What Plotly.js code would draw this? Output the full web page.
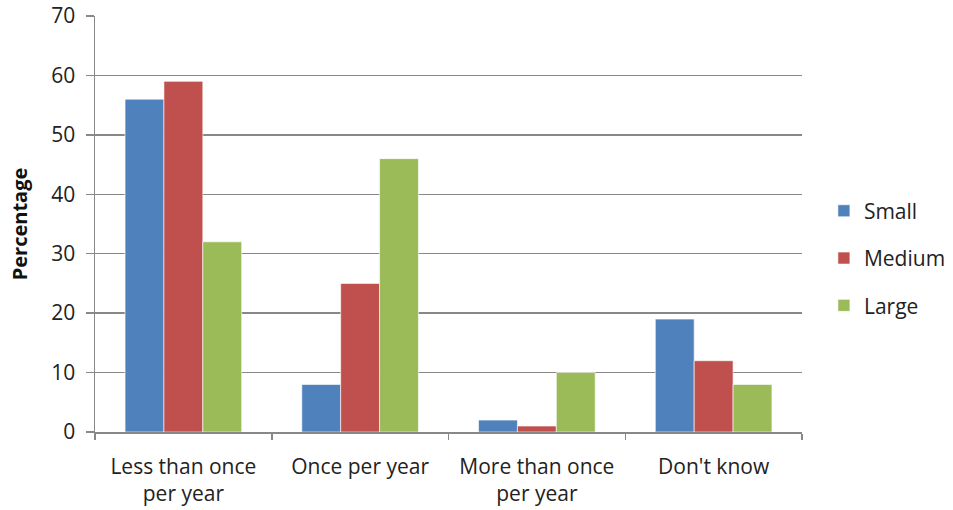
<!DOCTYPE html>
<html>
<head>
<meta charset="utf-8">
<script src="https://cdn.plot.ly/plotly-3.0.1.min.js"></script>
<style>html,body{margin:0;padding:0;background:#fff;}#chart{width:953px;height:510px;}</style>
</head>
<body>
<div id="chart"></div>
<script>
const categories = ["Less than once<br>per year", "Once per year", "More than once<br>per year", "Don't know"];
const seriesNames = ["Small", "Medium", "Large"];
const small = [56, 8, 2, 19];
const medium = [59, 25, 1, 12];
const large = [32, 46, 10, 8];
const yTicks = [0, 10, 20, 30, 40, 50, 60, 70];
const colors = ["#4F81BD", "#C0504D", "#9BBB59"];

const font = "Open Sans, Noto Sans, sans-serif";
const data = [small, medium, large].map((vals, i) => ({
  type: "bar",
  x: categories,
  y: vals,
  name: seriesNames[i],
  legendgroup: "g" + i,
  marker: {color: colors[i], line: {color: "rgba(255,255,255,0.6)", width: 1}}
}));

const layout = {
  width: 953, height: 510,
  margin: {l: 95, r: 151, t: 16, b: 78, autoexpand: false},
  paper_bgcolor: "#fff", plot_bgcolor: "#fff",
  font: {family: font, size: 22, color: "#222"},
  barmode: "group",
  bargap: 0.34, bargroupgap: 0,
  xaxis: {
    type: "category",
    tickson: "boundaries",
    ticks: "outside", ticklen: 6, tickcolor: "#888", tickwidth: 1.5,
    ticklabelstandoff: 15,
    showgrid: false,
    showline: true, linecolor: "#888", linewidth: 1.5,
    tickfont: {family: font, size: 21, color: "#222"},
    fixedrange: true
  },
  yaxis: {
    range: [0, 70],
    tickvals: yTicks,
    ticks: "outside", ticklen: 8, tickcolor: "#888", tickwidth: 1.5,
    ticklabelstandoff: 6,
    showgrid: true, gridcolor: "#888", gridwidth: 1.5,
    showline: true, linecolor: "#888", linewidth: 1.5,
    zeroline: false,
    tickfont: {family: font, size: 21, color: "#222"},
    title: {text: "Percentage", font: {family: font, size: 20, color: "#111", weight: "bold"}, standoff: 18},
    fixedrange: true
  },
  legend: {
    x: 1.031, xanchor: "left", xref: "paper",
    y: 0.418, yanchor: "middle",
    font: {family: font, size: 21, color: "#222"},
    traceorder: "grouped",
    tracegroupgap: 17,
    bgcolor: "rgba(0,0,0,0)"
  },
  showlegend: true
};

Plotly.newPlot("chart", data, layout, {displayModeBar: false, staticPlot: true});
</script>
</body>
</html>
